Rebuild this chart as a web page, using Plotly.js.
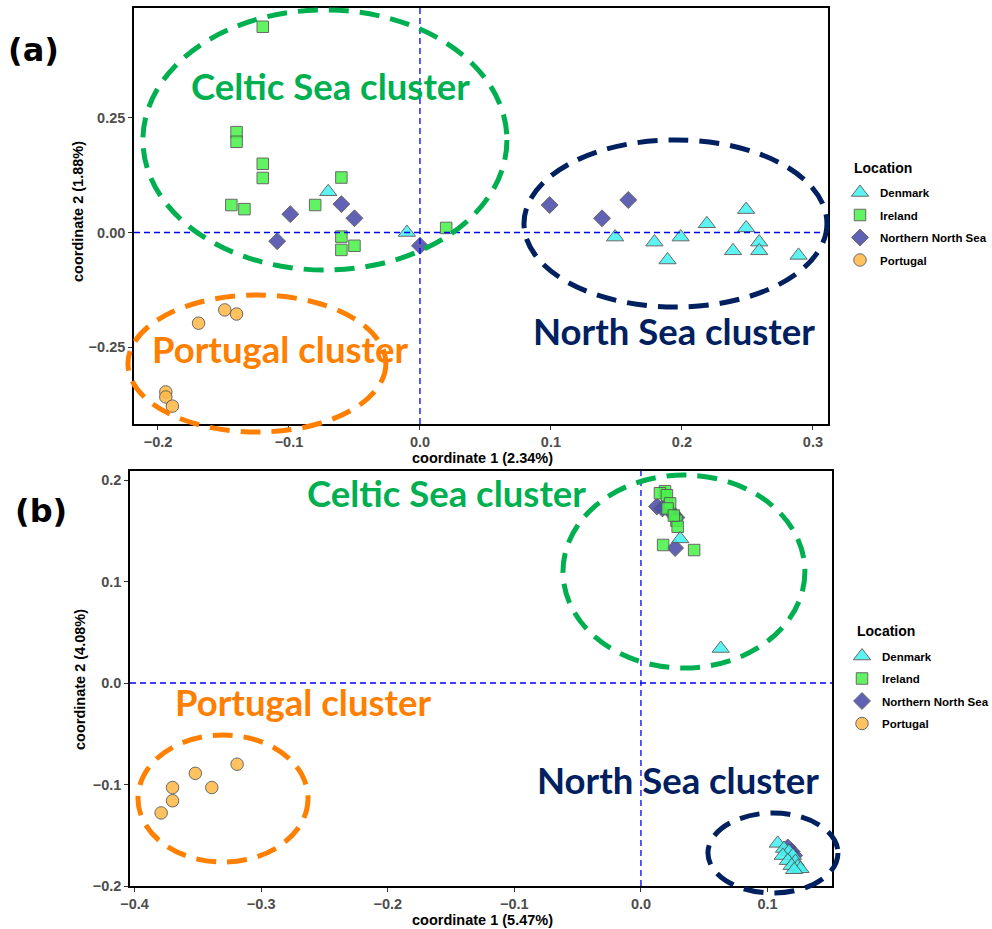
<!DOCTYPE html>
<html>
<head>
<meta charset="utf-8">
<script src="https://cdn.plot.ly/plotly-3.0.1.min.js"></script>
<style>
html,body{margin:0;padding:0;background:#fff;overflow:hidden;width:992px;height:929px;}
#chart{width:992px;height:929px;position:absolute;left:0;top:0;}
</style>
</head>
<body>
<div id="chart"></div>
<script>
// ---------- Data ----------
const locations = ["Denmark", "Ireland", "Northern North Sea", "Portugal"];

// Panel (a): coordinate 1 (2.34%) vs coordinate 2 (1.88%)
const denmarkA_x = [-0.070, -0.010, 0.149, 0.179, 0.189, 0.199, 0.219, 0.249, 0.249, 0.259, 0.259, 0.239, 0.289];
const denmarkA_y = [0.089, 0.000, -0.010, -0.021, -0.060, -0.010, 0.019, 0.050, 0.010, -0.021, -0.040, -0.040, -0.050];
const irelandA_x = [-0.120, -0.140, -0.140, -0.120, -0.120, -0.060, -0.144, -0.134, -0.080, -0.060, -0.060, -0.050, 0.020];
const irelandA_y = [0.449, 0.219, 0.198, 0.150, 0.119, 0.120, 0.060, 0.051, 0.060, -0.009, -0.038, -0.029, 0.010];
const nnsA_x = [-0.099, -0.060, -0.050, -0.109, 0.000, 0.099, 0.139, 0.159];
const nnsA_y = [0.040, 0.062, 0.031, -0.019, -0.029, 0.060, 0.031, 0.071];
const portugalA_x = [-0.169, -0.149, -0.140, -0.194, -0.194, -0.189];
const portugalA_y = [-0.198, -0.169, -0.178, -0.348, -0.359, -0.379];

// Panel (b): coordinate 1 (5.47%) vs coordinate 2 (4.08%)
const denmarkB_x = [0.031, 0.063, 0.108, 0.113, 0.117, 0.112, 0.120, 0.116, 0.122, 0.119, 0.124, 0.126, 0.121];
const denmarkB_y = [0.142, 0.034, -0.158, -0.163, -0.166, -0.170, -0.170, -0.175, -0.176, -0.180, -0.181, -0.183, -0.184];
const irelandB_x = [0.019, 0.015, 0.0205, 0.023, 0.028, 0.029, 0.0175, 0.042, 0.021, 0.026];
const irelandB_y = [0.189, 0.187, 0.185, 0.177, 0.160, 0.154, 0.136, 0.131, 0.172, 0.165];
const nnsB_x = [0.0126, 0.017, 0.025, 0.028, 0.027, 0.116, 0.119, 0.121];
const nnsB_y = [0.174, 0.172, 0.167, 0.163, 0.133, -0.162, -0.166, -0.170];
const portugalB_x = [-0.319, -0.352, -0.339, -0.370, -0.370, -0.379];
const portugalB_y = [-0.080, -0.089, -0.103, -0.103, -0.116, -0.128];

// Tick values
const xTicksA = [-0.2, -0.1, 0.0, 0.1, 0.2, 0.3];
const yTicksA = [-0.25, 0.0, 0.25];
const xTicksB = [-0.4, -0.3, -0.2, -0.1, 0.0, 0.1];
const yTicksB = [-0.2, -0.1, 0.0, 0.1, 0.2];

// Axis titles
const xTitleA = "coordinate 1 (2.34%)", yTitleA = "coordinate 2 (1.88%)";
const xTitleB = "coordinate 1 (5.47%)", yTitleB = "coordinate 2 (4.08%)";

// Cluster outlines (data coords of each panel: [x0, x1, y0, y1])
const clustersA = {
  celtic:   [-0.2115, 0.0664, -0.0819, 0.4858],
  north:    [0.0794, 0.3107, -0.1627, 0.2020],
  portugal: [-0.2229, -0.0260, -0.4356, -0.1365]
};
const clustersB = {
  celtic:   [-0.0616, 0.1295, 0.0148, 0.2049],
  north:    [0.0529, 0.1556, -0.2069, -0.1281],
  portugal: [-0.3973, -0.2630, -0.1764, -0.0512]
};

// ---------- Styling ----------
const W = 992, H = 929;
const styles = {
  "Denmark":            {symbol: "triangle-up", size: 15, color: "#46F2F2", rank: 1},
  "Ireland":            {symbol: "square",      size: 11.5, color: "#4CF24C", rank: 2},
  "Northern North Sea": {symbol: "diamond",     size: 13, color: "#4D4DAB", rank: 3},
  "Portugal":           {symbol: "circle",      size: 12.5, color: "#FFBA4A", rank: 4}
};
const colGreen = "#00B050", colNavy = "#002060", colOrange = "#FF8000";

const xRangeA = [-0.2183, 0.3115], yRangeA = [-0.418, 0.490];
const xRangeB = [-0.4036, 0.1509], yRangeB = [-0.200, 0.2089];
const xDomA = [134 / W, 828 / W], yDomA = [1 - 424 / H, 1 - 8 / H];
const xDomB = [130 / W, 832 / W], yDomB = [1 - 886 / H, 1 - 471 / H];

function mkTrace(name, xs, ys, xa, ya, legend) {
  const s = styles[name];
  return {
    type: "scatter", mode: "markers", name: name, x: xs, y: ys,
    xaxis: xa, yaxis: ya, legend: legend, legendgroup: name, legendrank: s.rank,
    marker: {symbol: s.symbol, size: s.size, color: s.color, opacity: 0.88,
             line: {color: "#555555", width: 1}},
    hoverinfo: "x+y+name"
  };
}

const traces = [
  mkTrace("Northern North Sea", nnsA_x, nnsA_y, "x", "y", "legend"),
  mkTrace("Ireland", irelandA_x, irelandA_y, "x", "y", "legend"),
  mkTrace("Denmark", denmarkA_x, denmarkA_y, "x", "y", "legend"),
  mkTrace("Portugal", portugalA_x, portugalA_y, "x", "y", "legend"),
  mkTrace("Northern North Sea", nnsB_x, nnsB_y, "x2", "y2", "legend2"),
  mkTrace("Ireland", irelandB_x, irelandB_y, "x2", "y2", "legend2"),
  mkTrace("Denmark", denmarkB_x, denmarkB_y, "x2", "y2", "legend2"),
  mkTrace("Portugal", portugalB_x, portugalB_y, "x2", "y2", "legend2")
];

function toPaper(v, range, dom) {
  return dom[0] + (v - range[0]) / (range[1] - range[0]) * (dom[1] - dom[0]);
}
function ellipse(c, xr, yr, xd, yd, color) {
  return {
    type: "circle", xref: "paper", yref: "paper", layer: "above",
    x0: toPaper(c[0], xr, xd), x1: toPaper(c[1], xr, xd),
    y0: toPaper(c[2], yr, yd), y1: toPaper(c[3], yr, yd),
    line: {color: color, width: 5, dash: "20px,11px"}, fillcolor: "rgba(0,0,0,0)"
  };
}
function refLine(xa, ya, vertical) {
  const base = {type: "line", layer: "above", line: {color: "#0000FF", width: 1.3, dash: "6px,4px"}};
  if (vertical) return Object.assign(base, {xref: xa, yref: ya + " domain", x0: 0, x1: 0, y0: 0, y1: 1});
  return Object.assign(base, {xref: xa + " domain", yref: ya, x0: 0, x1: 1, y0: 0, y1: 0});
}

const shapes = [
  refLine("x", "y", true), refLine("x", "y", false),
  refLine("x2", "y2", true), refLine("x2", "y2", false),
  ellipse(clustersA.celtic, xRangeA, yRangeA, xDomA, yDomA, colGreen),
  ellipse(clustersA.north, xRangeA, yRangeA, xDomA, yDomA, colNavy),
  ellipse(clustersA.portugal, xRangeA, yRangeA, xDomA, yDomA, colOrange),
  ellipse(clustersB.celtic, xRangeB, yRangeB, xDomB, yDomB, colGreen),
  ellipse(clustersB.north, xRangeB, yRangeB, xDomB, yDomB, colNavy),
  ellipse(clustersB.portugal, xRangeB, yRangeB, xDomB, yDomB, colOrange)
];

const clusterFont = (c) => ({family: "Lato, 'Open Sans', sans-serif", size: 36.5, color: c, weight: 700});
function label(text, px, py, font, xanchor, angle) {
  return {text: text, xref: "paper", yref: "paper", x: px / W, y: 1 - py / H,
          xanchor: xanchor || "center", yanchor: "middle", showarrow: false, font: font,
          textangle: angle || 0};
}
const panelFont = {family: "'DejaVu Sans', sans-serif", size: 32, color: "#000", weight: 700};
const legTitleFont = {family: "'Liberation Sans', Arial, sans-serif", size: 14, color: "#000", weight: 700};
const titleFont = {family: "'Liberation Sans', Arial, sans-serif", size: 14.5, color: "#000", weight: 700};
const annotations = [
  label("Celtic Sea cluster", 330, 86, clusterFont(colGreen)),
  label("North Sea cluster", 674, 331, clusterFont(colNavy)),
  label("Portugal cluster", 280, 349, clusterFont(colOrange)),
  label("Celtic Sea cluster", 446, 493, clusterFont(colGreen)),
  label("North Sea cluster", 678, 780, clusterFont(colNavy)),
  label("Portugal cluster", 303, 702, clusterFont(colOrange)),
  label("(a)", 33, 50, panelFont),
  label("(b)", 41, 511, panelFont),
  label("Location", 852, 168, legTitleFont, "left"),
  label("Location", 855, 631, legTitleFont, "left"),
  label(xTitleA, 482, 458, titleFont),
  label(yTitleA, 78, 212, titleFont, "center", -90),
  label(xTitleB, 482, 919.5, titleFont),
  label(yTitleB, 80, 680, titleFont, "center", -90)
];

const tickFont = {family: "'Liberation Sans', Arial, sans-serif", size: 14.5, color: "#4D4D4D", weight: 700};
function axis(range, dom, ticks, fmt, anchor) {
  return {
    range: range, domain: dom, anchor: anchor, tickvals: ticks, tickformat: fmt,
    showgrid: false, zeroline: false, showline: true, mirror: true,
    linecolor: "#000", linewidth: 1.6, ticks: "outside", ticklen: 4, tickwidth: 1,
    tickcolor: "#333", tickfont: tickFont, automargin: false
  };
}

const legendCommon = {
  xref: "container", yref: "container",
  xanchor: "left", yanchor: "top", bgcolor: "rgba(0,0,0,0)",
  font: {family: "'Liberation Sans', Arial, sans-serif", size: 11.5, color: "#000", weight: 700},
  tracegroupgap: 3.5, itemclick: false, itemdoubleclick: false
};

const layout = {
  width: W, height: H,
  margin: {l: 0, r: 0, t: 0, b: 0, autoexpand: false},
  paper_bgcolor: "#fff", plot_bgcolor: "#fff",
  showlegend: true,
  xaxis: axis(xRangeA, xDomA, xTicksA, ".1f", "y"),
  yaxis: axis(yRangeA, yDomA, yTicksA, ".2f", "x"),
  xaxis2: axis(xRangeB, xDomB, xTicksB, ".1f", "y2"),
  yaxis2: axis(yRangeB, yDomB, yTicksB, ".1f", "x2"),
  legend: Object.assign({}, legendCommon, {x: 840 / W, y: 1 - 178 / H}),
  legend2: Object.assign({}, legendCommon, {x: 842 / W, y: 1 - 641.5 / H}),
  shapes: shapes,
  annotations: annotations
};

Plotly.newPlot("chart", traces, layout, {displayModeBar: false});
</script>
</body>
</html>
